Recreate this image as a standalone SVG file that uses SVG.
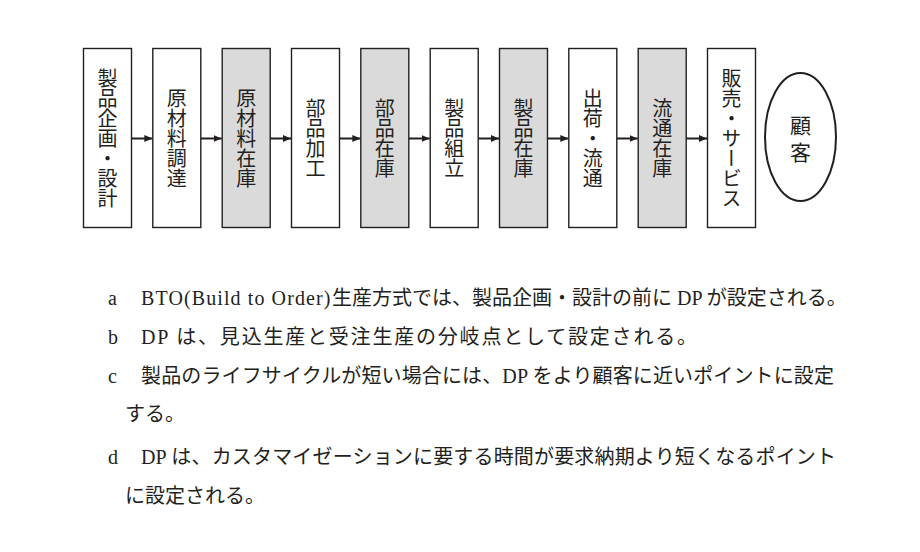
<svg xmlns="http://www.w3.org/2000/svg" width="920" height="552" viewBox="0 0 920 552">
<style>
.box{fill:#ffffff;stroke:#231f20;stroke-width:1.4}
.inv{fill:#dadada;stroke:#231f20;stroke-width:1.4}
.vt{font-family:"Noto Sans CJK JP",sans-serif;font-size:20px;fill:#231f20;writing-mode:vertical-rl;text-anchor:middle}
.conn line{stroke:#231f20;stroke-width:2}
.txt{font-family:"Liberation Serif","Noto Sans CJK JP",serif;font-size:20px;fill:#231f20}
</style>
<defs>
<marker id="ah" viewBox="0 0 8 8" refX="8" refY="4" markerWidth="8" markerHeight="8" markerUnits="userSpaceOnUse" orient="auto">
<path d="M0,0.5 L8,4 L0,7.5 Z" fill="#231f20"/>
</marker>
</defs>
<rect width="920" height="552" fill="#ffffff"/>
<g id="n1"><rect class="box" x="83.5" y="48.5" width="48" height="179"/><text class="vt" x="107.5" y="138">製品企画・設計</text></g>
<g id="n2"><rect class="box" x="152.8" y="48.5" width="48" height="179"/><text class="vt" x="176.8" y="138">原材料調達</text></g>
<g id="n3"><rect class="inv" x="222.2" y="48.5" width="48" height="179"/><text class="vt" x="246.2" y="138">原材料在庫</text></g>
<g id="n4"><rect class="box" x="291.5" y="48.5" width="48" height="179"/><text class="vt" x="315.5" y="138">部品加工</text></g>
<g id="n5"><rect class="inv" x="360.8" y="48.5" width="48" height="179"/><text class="vt" x="384.8" y="138">部品在庫</text></g>
<g id="n6"><rect class="box" x="430.2" y="48.5" width="48" height="179"/><text class="vt" x="454.2" y="138">製品組立</text></g>
<g id="n7"><rect class="inv" x="499.5" y="48.5" width="48" height="179"/><text class="vt" x="523.5" y="138">製品在庫</text></g>
<g id="n8"><rect class="box" x="568.8" y="48.5" width="48" height="179"/><text class="vt" x="592.8" y="138">出荷・流通</text></g>
<g id="n9"><rect class="inv" x="638.2" y="48.5" width="48" height="179"/><text class="vt" x="662.2" y="138">流通在庫</text></g>
<g id="n10"><rect class="box" x="707.5" y="48.5" width="48" height="179"/><text class="vt" x="731.5" y="138">販売・サービス</text></g>
<g id="n11"><ellipse cx="800.5" cy="137" rx="35.5" ry="64" fill="#ffffff" stroke="#231f20" stroke-width="2"/><text class="vt" x="800.5" y="142" style="font-size:21px;letter-spacing:6px">顧客</text></g>
<g id="connectors" class="conn">
<line x1="131.5" y1="138.5" x2="152.3" y2="138.5" marker-end="url(#ah)"/>
<line x1="200.8" y1="138.5" x2="221.7" y2="138.5" marker-end="url(#ah)"/>
<line x1="270.2" y1="138.5" x2="291" y2="138.5" marker-end="url(#ah)"/>
<line x1="339.5" y1="138.5" x2="360.3" y2="138.5" marker-end="url(#ah)"/>
<line x1="408.8" y1="138.5" x2="429.7" y2="138.5" marker-end="url(#ah)"/>
<line x1="478.2" y1="138.5" x2="499" y2="138.5" marker-end="url(#ah)"/>
<line x1="547.5" y1="138.5" x2="568.3" y2="138.5" marker-end="url(#ah)"/>
<line x1="616.8" y1="138.5" x2="637.7" y2="138.5" marker-end="url(#ah)"/>
<line x1="686.2" y1="138.5" x2="707" y2="138.5" marker-end="url(#ah)"/>
</g>
<g id="statements">
<text class="txt" x="108" y="305">a</text>
<text class="txt" x="141" y="305"><tspan style="letter-spacing:1.1px">BTO(Build to Order)</tspan><tspan x="332">生産方式では、製品企画・設計の前に DP が設定される。</tspan></text>
<text class="txt" x="108" y="344">b</text>
<text class="txt" x="141" y="344" textLength="556" lengthAdjust="spacing">DP は、見込生産と受注生産の分岐点として設定される。</text>
<text class="txt" x="108" y="383">c</text>
<text class="txt" x="141" y="383" textLength="693" lengthAdjust="spacing">製品のライフサイクルが短い場合には、DP をより顧客に近いポイントに設定</text>
<text class="txt" x="125" y="421">する。</text>
<text class="txt" x="108" y="464">d</text>
<text class="txt" x="141" y="464" textLength="695" lengthAdjust="spacing">DP は、カスタマイゼーションに要する時間が要求納期より短くなるポイント</text>
<text class="txt" x="125" y="503">に設定される。</text>
</g>
</svg>
